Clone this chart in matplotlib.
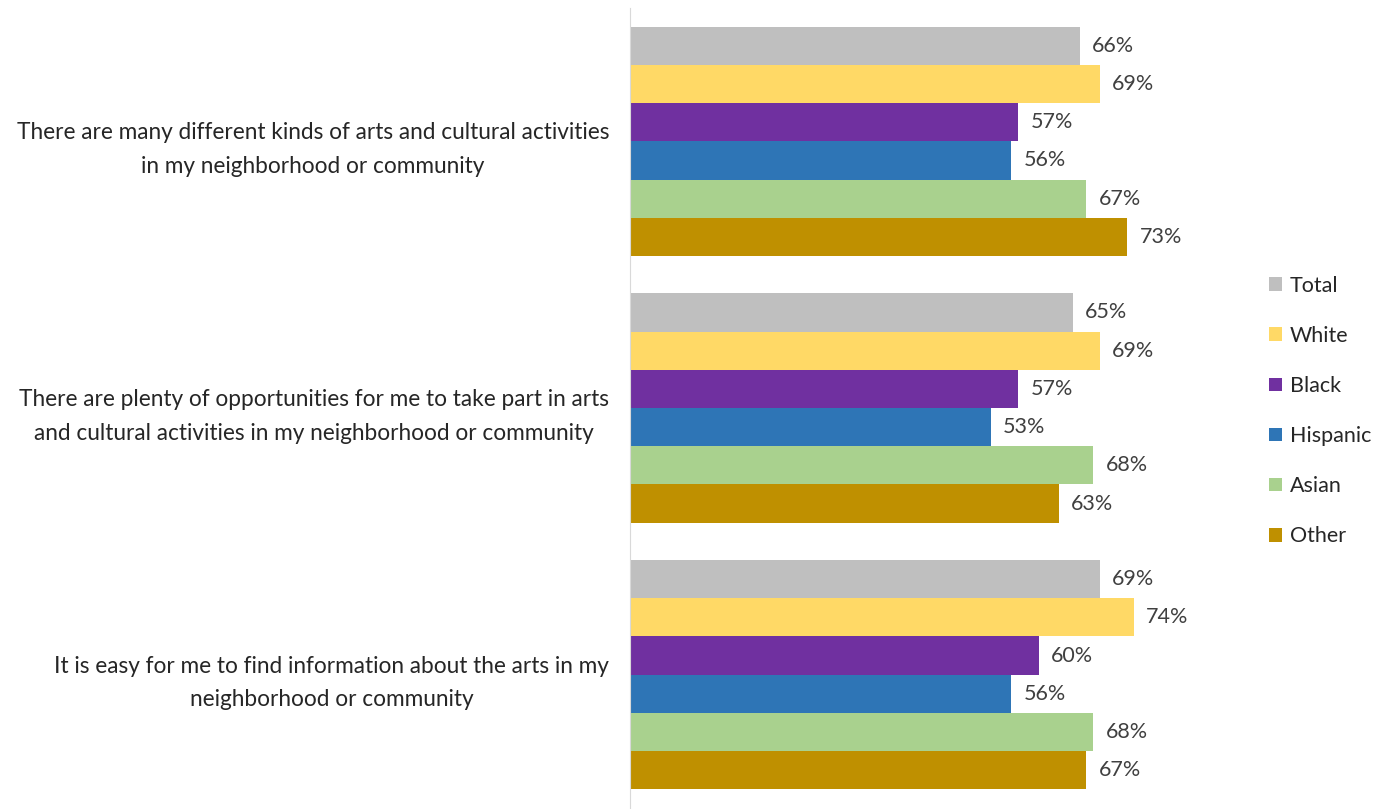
import matplotlib.pyplot as plt
import numpy as np

plt.rcParams['font.family'] = ['Lato', 'DejaVu Sans']

statements = [
    "There are many different kinds of arts and cultural activities\nin my neighborhood or community",
    "There are plenty of opportunities for me to take part in arts\nand cultural activities in my neighborhood or community",
    "It is easy for me to find information about the arts in my\nneighborhood or community",
]
groups = ["Total", "White", "Black", "Hispanic", "Asian", "Other"]
colors = ["#BFBFBF", "#FFD966", "#7030A0", "#2E75B6", "#A9D18E", "#BF9000"]

total = [66, 65, 69]
white = [69, 69, 74]
black = [57, 57, 60]
hispanic = [56, 53, 56]
asian = [67, 68, 68]
other = [73, 63, 67]
series = [total, white, black, hispanic, asian, other]

fig = plt.figure(figsize=(13.92, 8.09), dpi=100)
ax = fig.add_axes([630 / 1392, 1 / 809, 613 / 1392, 800 / 809])

bar_h = 0.86 / 6
y = np.arange(len(statements))
for i, (name, vals, col) in enumerate(zip(groups, series, colors)):
    pos = y - 0.43 + bar_h * (i + 0.5)
    bars = ax.barh(pos, vals, height=bar_h, color=col, label=name)
    for b, v in zip(bars, vals):
        ax.text(b.get_width() + 1.8, b.get_y() + b.get_height() / 2, f"{v}%",
                va='center', ha='left', fontsize=15.5, color='#404040')

ax.set_ylim(len(statements) - 0.5, -0.5)
ax.set_xlim(0, 90)
ax.set_yticks(y)
ax.set_yticklabels(statements, fontsize=16.3, color='#262626', multialignment='center', linespacing=1.75)
ax.tick_params(axis='y', length=0, pad=15)
ax.set_xticks([])
for s in ['top', 'right', 'bottom']:
    ax.spines[s].set_visible(False)
ax.spines['left'].set_color('#D9D9D9')

fig.legend(loc='center left', bbox_to_anchor=(1250 / 1392, 1 - 411 / 809), frameon=False,
           fontsize=15.5, handlelength=0.6, handleheight=0.6, handletextpad=0.35,
           labelspacing=1.4, labelcolor='#262626')

fig.savefig("out.png", dpi=100)
